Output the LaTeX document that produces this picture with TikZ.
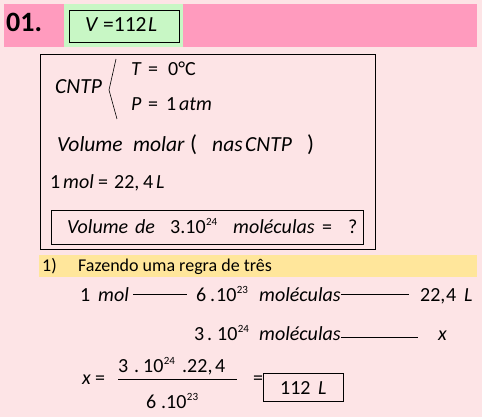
\documentclass[tikz,border=0pt]{standalone}
\usepackage{fontspec}
\setmainfont{Carlito}
\usetikzlibrary{positioning,fit,calc}
\definecolor{pageBg}{HTML}{FDE4E6}
\definecolor{headPink}{HTML}{FF9BBE}
\definecolor{headGreen}{HTML}{C8F7C5}
\definecolor{stepYellow}{HTML}{FFE69B}
\begin{document}
\begin{tikzpicture}[
  x=1pt, y=-1pt,
  it/.style={anchor=base west, inner sep=0pt, font=\fontsize{20}{24}\selectfont\itshape},
  up/.style={anchor=base west, inner sep=0pt, font=\fontsize{20}{24}\selectfont},
  sup/.style={anchor=base west, inner sep=0pt, font=\fontsize{11}{12}\selectfont, yshift=8pt},
  bigNum/.style={anchor=base west, inner sep=0pt, font=\fontsize{28}{30}\selectfont\bfseries}
]
	\tikzstyle{plainBox} = [rectangle, draw=black, line width=0.8pt]
	\tikzstyle{rule} = [draw=black, line width=0.7pt]
	\tikzstyle{wideIt} = [it, font=\fontsize{21.5}{24}\selectfont\itshape]

	% background and bands
	\fill[pageBg] (0,0) rectangle (482,417);
	\useasboundingbox (0,0) rectangle (482,417);
	\fill[headPink] (4,4) rectangle (477,47);
	\fill[headGreen] (64,4) rectangle (183,47);
	\fill[stepYellow] (39,255) rectangle (477,277);

	% header
	\node[bigNum] (qNumber) at (6,32) {01.};
	\node[wideIt] (answerV) at (85,32) {V};
	\node[up, font=\fontsize{21.5}{24}\selectfont] (answerEq) at (103,32) {=112};
	\node[wideIt] (answerL) at (148,32) {L};
	\draw[plainBox] (69,10) rectangle (179,42);

	% given data
	\draw[plainBox] (40,54) rectangle (375,249);
	\node[wideIt] (cntp) at (55,94) {CNTP};
	\draw[line width=0.6pt] (116,59) -- (109,90) -- (117,119);
	\node[it] (tempT) at (131,76) {T};
	\node[up] (tempEq) at (148,76) {=};
	\node[up] (tempVal) at (168,76) {0°C};
	\node[it] (pressP) at (131,111) {P};
	\node[up] (pressEq) at (148,111) {=};
	\node[up] (pressVal) at (166,111) {1};
	\node[it] (pressUnit) at (179,111) {atm};

	\node[wideIt] (molarA) at (57,152) {Volume};
	\node[wideIt] (molarB) at (133,152) {molar};
	\node[up, font=\fontsize{23}{24}\selectfont] (parOpen) at (190,152) {(};
	\node[wideIt] (nasCntp) at (212,152) {nas};
	\node[wideIt] (nasCntpB) at (245,152) {CNTP};
	\node[up, font=\fontsize{23}{24}\selectfont] (parClose) at (307,152) {)};

	\node[up] (molOne) at (50,189) {1};
	\node[it] (molUnit) at (63,189) {mol};
	\node[up] (molEq) at (98,189) {=};
	\node[up] (molVal) at (114,189) {22,};
	\node[up] (molValB) at (143,189) {4};
	\node[it] (molL) at (156,189) {L};

	\node[it] (askA) at (67,233) {Volume};
	\node[it] (askB) at (135,233) {de};
	\node[up] (askNum) at (170,233) {3.10};
	\node[sup, right=0pt of askNum.base east, anchor=base west] (askExp) {24};
	\node[it] (askC) at (233,233) {moléculas};
	\node[up] (askEq) at (322,233) {=};
	\node[up] (askQ) at (348,233) {?};
	\draw[plainBox] (51,210) rectangle (363,244);

	% step 1
	\node[up, font=\fontsize{18}{20}\selectfont] (stepNum) at (42,271) {1)};
	\node[up, font=\fontsize{18}{20}\selectfont] (stepText) at (78,271) {Fazendo uma regra de três};

	% rule of three
	\node[up] (oneA) at (80,301) {1};
	\node[it] (oneMol) at (98,301) {mol};
	\node[up] (sixA) at (196,301) {6};
	\node[up] (sixB) at (210,301) {.};
	\node[up] (sixC) at (216,301) {10};
	\node[sup, right=0pt of sixC.base east, anchor=base west] (sixExp) {23};
	\node[it] (sixMolec) at (259,301) {moléculas};
	\node[up] (volA) at (420,301) {22,};
	\node[up] (volB) at (446,301) {4};
	\node[it] (volC) at (464,301) {L};

	\node[up] (threeA) at (194,340) {3};
	\node[up] (threeB) at (207,340) {.};
	\node[up] (threeC) at (217,340) {10};
	\node[sup, right=0pt of threeC.base east, anchor=base west] (threeExp) {24};
	\node[it] (threeMolec) at (259,340) {moléculas};
	\node[it] (volX) at (438,340) {x};

	\draw[rule] ([xshift=4pt]oneMol.east) -- ([xshift=-9pt]sixA.west |- oneMol.east);
	\draw[rule] (sixMolec.east |- oneMol.east) -- ([xshift=-11pt]volA.west |- oneMol.east);
	\draw[rule] ([yshift=-2pt]threeMolec.east |- volX.west) -- ([xshift=-20pt,yshift=-2pt]volX.west);

	% result
	\node[it] (resX) at (82,384) {x};
	\node[up] (resEq) at (95,384) {=};
	\node[up] (numA) at (118,372) {3};
	\node[up] (numB) at (134,372) {.};
	\node[up] (numC) at (143,372) {10};
	\node[sup, right=0pt of numC.base east, anchor=base west] (numExp) {24};
	\node[up] (numD) at (182,372) {.22,};
	\node[up] (numE) at (215,372) {4};
	\node[up] (denA) at (146,408) {6};
	\node[up] (denB) at (161,408) {.10};
	\node[sup, right=0pt of denB.base east, anchor=base west] (denExp) {23};
	\coordinate (barL) at (118,379);
	\coordinate (barR) at (237,379);
	\draw[rule] (barL) -- (barR);
	\node[up] (resEqB) at (253,384) {=};
	\node[up] (resVal) at (280,394) {112};
	\node[it] (resL) at (318,394) {L};
	\node[plainBox, fit={(resVal) (resL)}, inner xsep=0pt, minimum width=80pt, minimum height=28pt] (resBox) {};
\end{tikzpicture}
\end{document}
